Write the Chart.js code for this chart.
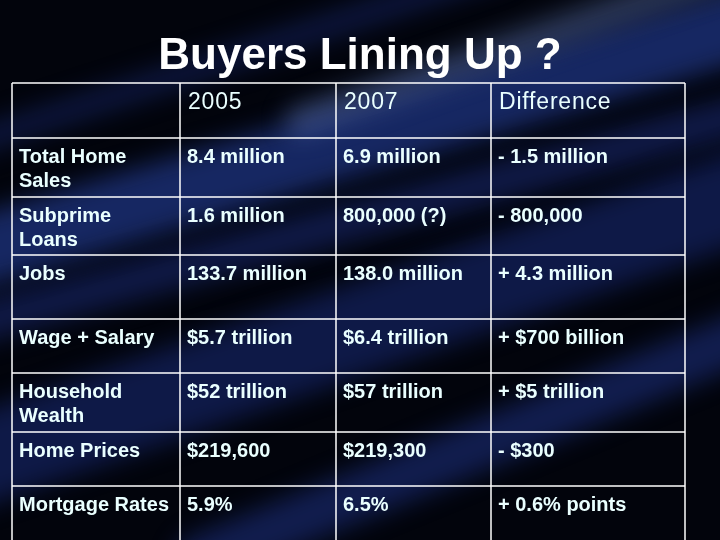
<!DOCTYPE html>
<html>
<head>
<meta charset="utf-8">
<script src="https://cdn.jsdelivr.net/npm/chart.js@4"></script>
<style>
  html, body { margin: 0; padding: 0; background: #000; }
  #wrap { width: 720px; height: 540px; position: relative; }
</style>
</head>
<body>
<div id="wrap"><canvas id="myChart"></canvas></div>
<script>
// table content
var title = 'Buyers Lining Up ?';
var headers = ['', '2005', '2007', 'Difference'];
var rowLabels = [['Total Home', 'Sales'], ['Subprime', 'Loans'], ['Jobs'], ['Wage + Salary'],
                 ['Household', 'Wealth'], ['Home Prices'], ['Mortgage Rates']];
var values2005 = ['8.4 million', '1.6 million', '133.7 million', '$5.7 trillion', '$52 trillion', '$219,600', '5.9%'];
var values2007 = ['6.9 million', '800,000 (?)', '138.0 million', '$6.4 trillion', '$57 trillion', '$219,300', '6.5%'];
var differences = ['- 1.5 million', '- 800,000', '+ 4.3 million', '+ $700 billion', '+ $5 trillion', '- $300', '+ 0.6% points'];

// layout (pixel units of the hidden axes)
var colEdges = [12, 180, 336, 491, 685];
var rowEdges = [83, 138, 197, 255, 319, 373, 432, 486, 560];

var tablePlugin = {
  id: 'table',
  beforeDraw: function(chart) {
    var c = chart.ctx, w = chart.width, h = chart.height;
    c.save();
    c.fillStyle = '#02040c';
    c.fillRect(0, 0, w, h);
    // streaks
    var streaks = [
      [[-50, 260], [760, 20], 70, 'rgba(40,70,170,0.55)'],
      [[-50, 330], [760, 110], 40, 'rgba(30,50,140,0.45)'],
      [[-50, 470], [760, 190], 90, 'rgba(25,45,130,0.5)'],
      [[200, 560], [760, 330], 50, 'rgba(35,60,160,0.45)'],
      [[300, 120], [760, -40], 30, 'rgba(120,150,220,0.35)'],
      [[-50, 150], [500, -30], 25, 'rgba(30,50,140,0.4)']
    ];
    c.lineCap = 'round';
    streaks.forEach(function(s) {
      c.strokeStyle = s[3];
      c.lineWidth = s[2];
      c.filter = 'blur(12px)';
      c.beginPath();
      c.moveTo(s[0][0], s[0][1]);
      c.lineTo(s[1][0], s[1][1]);
      c.stroke();
    });
    c.filter = 'none';
    c.restore();
  },
  afterDraw: function(chart) {
    var c = chart.ctx;
    var xs = chart.scales.x, ys = chart.scales.y;
    var X = function(v) { return xs.getPixelForValue(v); };
    var Y = function(v) { return ys.getPixelForValue(v); };
    c.save();
    c.fillStyle = '#ffffff';
    c.font = 'bold 44px "Liberation Sans", Arial, sans-serif';
    c.textAlign = 'center';
    c.textBaseline = 'middle';
    c.fillText(title, X(360), Y(57));

    c.strokeStyle = '#ffffff';
    c.lineWidth = 1.5;
    colEdges.forEach(function(v) {
      c.beginPath(); c.moveTo(X(v), Y(rowEdges[0])); c.lineTo(X(v), Y(rowEdges[rowEdges.length - 1])); c.stroke();
    });
    rowEdges.forEach(function(v) {
      c.beginPath(); c.moveTo(X(colEdges[0]), Y(v)); c.lineTo(X(colEdges[colEdges.length - 1]), Y(v)); c.stroke();
    });

    c.textAlign = 'left';
    c.textBaseline = 'top';
    c.fillStyle = '#eaffff';
    c.font = '23px "Liberation Sans", Arial, sans-serif';
    c.letterSpacing = '0.8px';
    headers.forEach(function(t, i) {
      c.fillText(t, X(colEdges[i] + 8), Y(rowEdges[0] + 8));
    });
    c.font = 'bold 20px "Liberation Sans", Arial, sans-serif';
    c.letterSpacing = '0px';
    rowLabels.forEach(function(lines, r) {
      var top = rowEdges[r + 1] + 9;
      var cells = [lines, [values2005[r]], [values2007[r]], [differences[r]]];
      cells.forEach(function(cell, col) {
        cell.forEach(function(t, k) {
          c.fillText(t, X(colEdges[col] + 7), Y(top + k * 24));
        });
      });
    });
    c.restore();
  }
};

new Chart(document.getElementById('myChart'), {
  type: 'scatter',
  data: { datasets: [{ data: [] }] },
  options: {
    responsive: true,
    maintainAspectRatio: false,
    animation: false,
    layout: { padding: 0 },
    plugins: { legend: { display: false }, tooltip: { enabled: false } },
    scales: {
      x: { type: 'linear', min: 0, max: 720, display: false },
      y: { type: 'linear', min: 0, max: 540, reverse: true, display: false }
    }
  },
  plugins: [tablePlugin]
});
</script>
</body>
</html>
